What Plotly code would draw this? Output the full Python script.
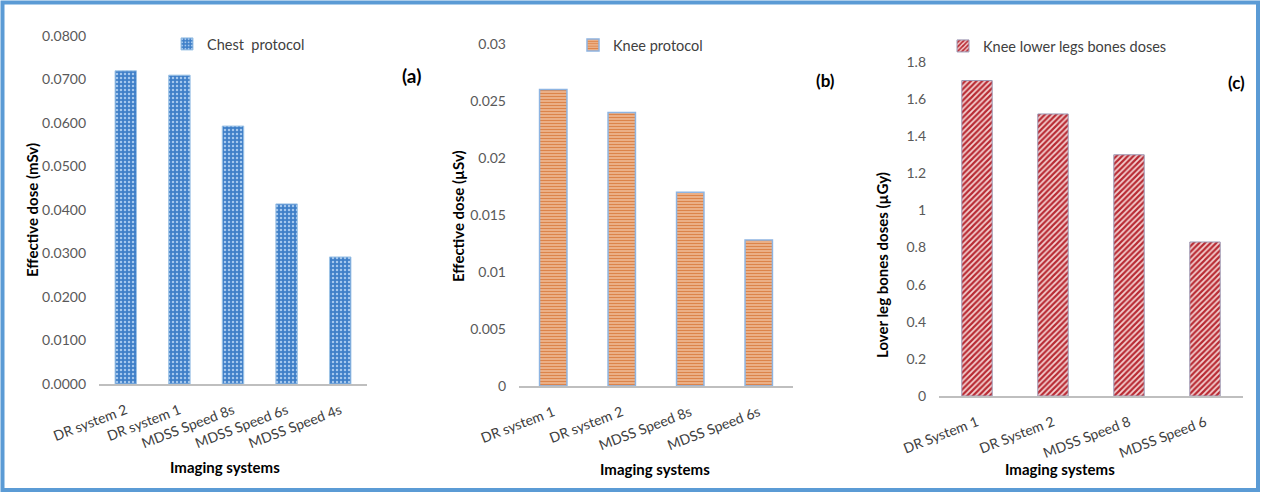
import plotly.graph_objects as go

W, H = 1261, 493

# Panel (a): chest protocol
chest_systems = ["DR system 2", "DR system 1", "MDSS Speed 8s", "MDSS Speed 6s", "MDSS Speed 4s"]
chest_dose = [0.0720, 0.0710, 0.0593, 0.0414, 0.0292]

# Panel (b): knee protocol
knee_systems = ["DR system 1", "DR system 2", "MDSS Speed 8s", "MDSS Speed 6s"]
knee_dose = [0.026, 0.024, 0.017, 0.0128]

# Panel (c): lower leg bone doses
leg_systems = ["DR System 1", "DR System 2", "MDSS Speed 8", "MDSS Speed 6"]
leg_dose = [1.70, 1.52, 1.30, 0.83]

FONT = "Lato, 'Open Sans', sans-serif"
XTICK = dict(family=FONT, size=14, color="#404040")
YTICK = dict(family=FONT, size=14, color="#595959")


def px_x(p):
    return p / W


def px_y(p):
    return 1 - p / H


fig = go.Figure()

fig.add_trace(go.Bar(
    x=chest_systems, y=chest_dose, name="Chest\u00a0 protocol",
    xaxis="x", yaxis="y", legend="legend",
    marker=dict(color="#3F7FC8", line=dict(color="#9DC3E6", width=1),
                pattern=dict(shape=".", fillmode="replace", bgcolor="#3F7FC8",
                             fgcolor="#A5C8EE", size=4, solidity=0.3)),
))
fig.add_trace(go.Bar(
    x=knee_systems, y=knee_dose, name="Knee protocol",
    xaxis="x2", yaxis="y2", legend="legend2",
    marker=dict(color="#E08A52", line=dict(color="#8DB4E2", width=1.5),
                pattern=dict(shape="-", fillmode="replace", bgcolor="#F3C3A2",
                             fgcolor="#DC844A", size=3, solidity=0.55)),
))
fig.add_trace(go.Bar(
    x=leg_systems, y=leg_dose, name="Knee lower legs bones doses",
    xaxis="x3", yaxis="y3", legend="legend3",
    marker=dict(color="#B8343C", line=dict(color="#9A98B4", width=1),
                pattern=dict(shape="/", fillmode="replace", bgcolor="#F5D2D2",
                             fgcolor="#B82A33", size=4, solidity=0.55)),
))

xbase = dict(showline=True, linecolor="#BFBFBF", linewidth=2, showgrid=False,
             zeroline=False, tickangle=-21, tickfont=XTICK, ticks="outside",
             ticklen=11, tickcolor="rgba(0,0,0,0)", fixedrange=True,
             automargin=False)
ybase = dict(showline=False, showgrid=False, zeroline=False, tickfont=YTICK,
             ticklabelstandoff=12, fixedrange=True, automargin=False)

legend_font = dict(family=FONT, size=14.5, color="#404040")

fig.update_layout(
    width=W, height=H, margin=dict(l=0, r=0, t=0, b=0, autoexpand=False),
    paper_bgcolor="white", plot_bgcolor="white", bargap=0.6,
    xaxis=dict(xbase, domain=[px_x(99), px_x(367)], anchor="y"),
    yaxis=dict(ybase, domain=[px_y(384), px_y(36)], range=[0, 0.08],
               dtick=0.01, tickformat=".4f", anchor="x"),
    xaxis2=dict(xbase, domain=[px_x(519), px_x(793)], anchor="y2"),
    yaxis2=dict(ybase, domain=[px_y(386), px_y(44)], range=[0, 0.03],
                dtick=0.005, anchor="x2"),
    xaxis3=dict(xbase, domain=[px_x(939), px_x(1243)], anchor="y3"),
    yaxis3=dict(ybase, domain=[px_y(396), px_y(62)], range=[0, 1.8],
                dtick=0.2, anchor="x3"),
    legend=dict(x=px_x(167), y=px_y(44), xanchor="left", yanchor="middle",
                font=legend_font, bgcolor="rgba(0,0,0,0)"),
    legend2=dict(x=px_x(573), y=px_y(45), xanchor="left", yanchor="middle",
                 font=legend_font, bgcolor="rgba(0,0,0,0)"),
    legend3=dict(x=px_x(943), y=px_y(46), xanchor="left", yanchor="middle",
                 font=legend_font, bgcolor="rgba(0,0,0,0)"),
    showlegend=True,
)

ann = []
title_font = dict(family=FONT, size=15, color="#000000")
for txt, x, y in [("Imaging systems", 225, 467), ("Imaging systems", 655, 469),
                  ("Imaging systems", 1060, 469)]:
    ann.append(dict(text="<b>%s</b>" % txt, x=px_x(x), y=px_y(y), xref="paper",
                    yref="paper", showarrow=False, font=title_font,
                    xanchor="center", yanchor="middle"))
for txt, x, y in [("Effective dose (mSv)", 32, 210), ("Effective dose (µSv)", 458, 216),
                  ("Lover leg bones doses (µGy)", 882, 265)]:
    ann.append(dict(text="<b>%s</b>" % txt, x=px_x(x), y=px_y(y), xref="paper",
                    yref="paper", showarrow=False, font=title_font,
                    textangle=-90, xanchor="center", yanchor="middle"))
for txt, x, y, s in [("(a)", 411, 76, 19), ("(b)", 825, 80, 17), ("(c)", 1236, 83, 17)]:
    ann.append(dict(text="<b>%s</b>" % txt, x=px_x(x), y=px_y(y), xref="paper",
                    yref="paper", showarrow=False,
                    font=dict(family=FONT, size=s, color="#000000"),
                    xanchor="center", yanchor="middle"))
fig.update_layout(annotations=ann)

# blue frame around the whole figure
fig.add_shape(type="rect", xref="paper", yref="paper",
              x0=px_x(2.5), x1=px_x(1258), y0=px_y(490), y1=px_y(2.5),
              line=dict(color="#5B9BD5", width=4), fillcolor="rgba(0,0,0,0)")

fig.write_html("out.html")
